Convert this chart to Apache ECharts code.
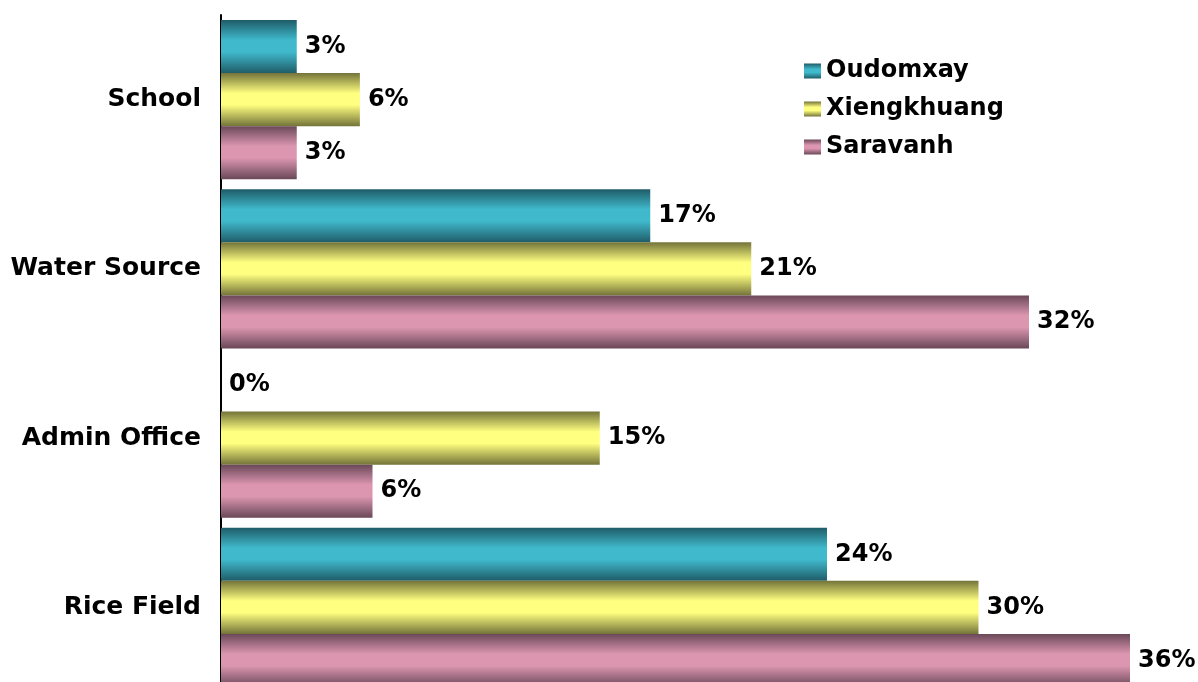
<!DOCTYPE html>
<html>
<head>
<meta charset="utf-8">
<script src="https://cdn.jsdelivr.net/npm/echarts@6/dist/echarts.min.js"></script>
<style>
  html, body { margin: 0; padding: 0; background: #fff; }
  #chart { width: 1198px; height: 682px; }
</style>
</head>
<body>
<div id="chart"></div>
<script>
// data
const categories = ["School", "Water Source", "Admin Office", "Rice Field"];
const oudomxay = [3, 17, 0, 24];
const xiengkhuang = [5.5, 21, 15, 30];
const saravanh = [3, 32, 6, 36];

const font = "DejaVu Sans";

// cylinder shading: dark at the edges, light in the middle
function shade(dark, light) {
  return new echarts.graphic.LinearGradient(0, 0, 0, 1, [
    { offset: 0, color: dark },
    { offset: 0.38, color: light },
    { offset: 0.6, color: light },
    { offset: 1, color: dark },
  ]);
}

function bar(name, data, dark, light) {
  return {
    name: name,
    type: "bar",
    data: data,
    barGap: "0%",
    barCategoryGap: "6%",
    itemStyle: { color: shade(dark, light) },
    label: {
      show: true,
      position: "right",
      distance: 8,
      formatter: (p) => Math.round(p.value) + "%",
      color: "#000",
      fontFamily: font,
      fontWeight: "bold",
      fontSize: 24,
    },
  };
}

let chart = echarts.init(document.getElementById("chart"));
chart.setOption({
  animation: false,
  grid: { left: 221, top: 15, width: 909, height: 677, outerBoundsMode: "none", containLabel: false },
  legend: {
    orient: "vertical",
    left: 799,
    top: 54,
    itemWidth: 17,
    itemHeight: 15,
    itemGap: 14,
    icon: "rect",
    textStyle: { fontFamily: font, fontWeight: "bold", fontSize: 24, color: "#000" },
  },
  xAxis: {
    type: "value",
    min: 0,
    max: 36,
    axisLine: { show: false },
    axisTick: { show: false },
    axisLabel: { show: false },
    splitLine: { show: false },
  },
  yAxis: {
    type: "category",
    data: categories,
    inverse: true,
    axisLine: { show: true, lineStyle: { color: "#000", width: 2 } },
    axisTick: { show: false },
    axisLabel: {
      margin: 20,
      color: "#000",
      fontFamily: font,
      fontWeight: "bold",
      fontSize: 25,
    },
  },
  series: [
    bar("Oudomxay", oudomxay, "#1f5c68", "#40b9cc"),
    bar("Xiengkhuang", xiengkhuang, "#74743a", "#ffff80"),
    bar("Saravanh", saravanh, "#6a4858", "#dc96b0"),
  ],
});
</script>
</body>
</html>
